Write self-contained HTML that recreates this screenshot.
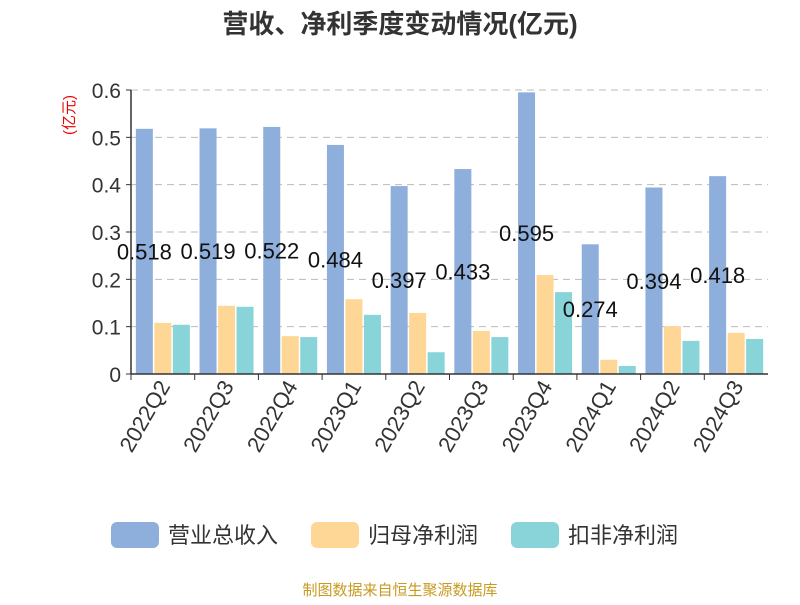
<!DOCTYPE html>
<html><head><meta charset="utf-8"><style>
body{margin:0;background:#fff;}
svg text{font-family:"Liberation Sans","Noto Sans CJK SC",sans-serif;}
</style></head><body>
<svg id="chart" width="800" height="600" xmlns="http://www.w3.org/2000/svg">
<text x="400" y="33" text-anchor="middle" font-size="26" font-weight="bold" fill="#333">营收、净利季度变动情况(亿元)</text>
<text transform="translate(74,115) rotate(-90)" text-anchor="middle" font-size="15" fill="#e00">(亿元)</text>
<g id="grid"></g>
<g id="bars"></g>
<g id="labels"></g>
<g id="axes"></g>
<g>
<rect x="111" y="522" width="48" height="26" rx="6" fill="#8eaedb"/>
<text x="168" y="543" font-size="22" fill="#333">营业总收入</text>
<rect x="311" y="522" width="48" height="26" rx="6" fill="#fed796"/>
<text x="368" y="543" font-size="22" fill="#333">归母净利润</text>
<rect x="511" y="522" width="48" height="26" rx="6" fill="#88d4d9"/>
<text x="568" y="543" font-size="22" fill="#333">扣非净利润</text>
</g>
<text x="400" y="595" text-anchor="middle" font-size="15" fill="#c89a20">制图数据来自恒生聚源数据库</text>
</svg>
<script>
const categories=["2022Q2","2022Q3","2022Q4","2023Q1","2023Q2","2023Q3","2023Q4","2024Q1","2024Q2","2024Q3"];
const revenue=[0.518,0.519,0.522,0.484,0.397,0.433,0.595,0.274,0.394,0.418];
const parentProfit=[0.108,0.144,0.080,0.158,0.129,0.091,0.209,0.030,0.101,0.087];
const deductedProfit=[0.104,0.142,0.078,0.125,0.046,0.078,0.173,0.017,0.070,0.074];
const yTicks=[0,0.1,0.2,0.3,0.4,0.5,0.6];
const NS="http://www.w3.org/2000/svg";
const x0=131,x1=768,y0=374,yTop=90,yMax=0.6;
const y=v=>y0-(v/yMax)*(y0-yTop);
const gw=(x1-x0)/categories.length;
function mk(t,a,p){const e=document.createElementNS(NS,t);for(const k in a)e.setAttribute(k,a[k]);p.appendChild(e);return e;}
const grid=document.getElementById('grid'),bars=document.getElementById('bars'),labels=document.getElementById('labels'),axes=document.getElementById('axes');
yTicks.forEach(t=>{
 if(t>0){const l=mk('line',{x1:x0,x2:x1,y1:y(t),y2:y(t),stroke:'#bbb','stroke-dasharray':'7,5'},grid);
 
 }
 const tx=mk('text',{x:x0-10,y:y(t)+8,'text-anchor':'end','font-size':21,fill:'#333'},axes);
 tx.textContent=String(t);
 
 
 const tk=mk('line',{x1:x0-5,x2:x0,y1:y(t),y2:y(t),stroke:'#333'},axes);
 
 
});
const series=[[revenue,'#8eaedb','bar-revenue'],[parentProfit,'#fed796','bar-parent-profit'],[deductedProfit,'#88d4d9','bar-deducted-profit']];
const bw=17,gap=1.5;
categories.forEach((c,i)=>{
 const cx=x0+gw*i+gw/2;
 series.forEach((s,j)=>{
  const bx=cx-bw*1.5-gap+j*(bw+gap);
  const r=mk('rect',{x:bx,y:y(s[0][i]),width:bw,height:y0-y(s[0][i]),fill:s[1]},bars);
  
  
 });
 const lb=mk('text',{x:cx-bw-gap,y:(y(revenue[i])+y0)/2+8,'text-anchor':'middle','font-size':22,fill:'#111'},labels);
 lb.textContent=revenue[i].toFixed(3);
 
 
 const tk=mk('line',{x1:x0+gw*i,x2:x0+gw*i,y1:y0,y2:y0+6,stroke:'#333'},axes);
 
 
 const xl=mk('text',{transform:`translate(${cx+8},${y0+12}) rotate(-60)`,'text-anchor':'end','font-size':22,fill:'#333'},axes);
 xl.textContent=c;
 
 
});
const xa=mk('line',{x1:x0,x2:x1,y1:y0,y2:y0,stroke:'#333','stroke-width':1.5},axes);


const ya=mk('line',{x1:x0,x2:x0,y1:yTop,y2:y0,stroke:'#333','stroke-width':1.5},axes);


</script>
</body></html>
